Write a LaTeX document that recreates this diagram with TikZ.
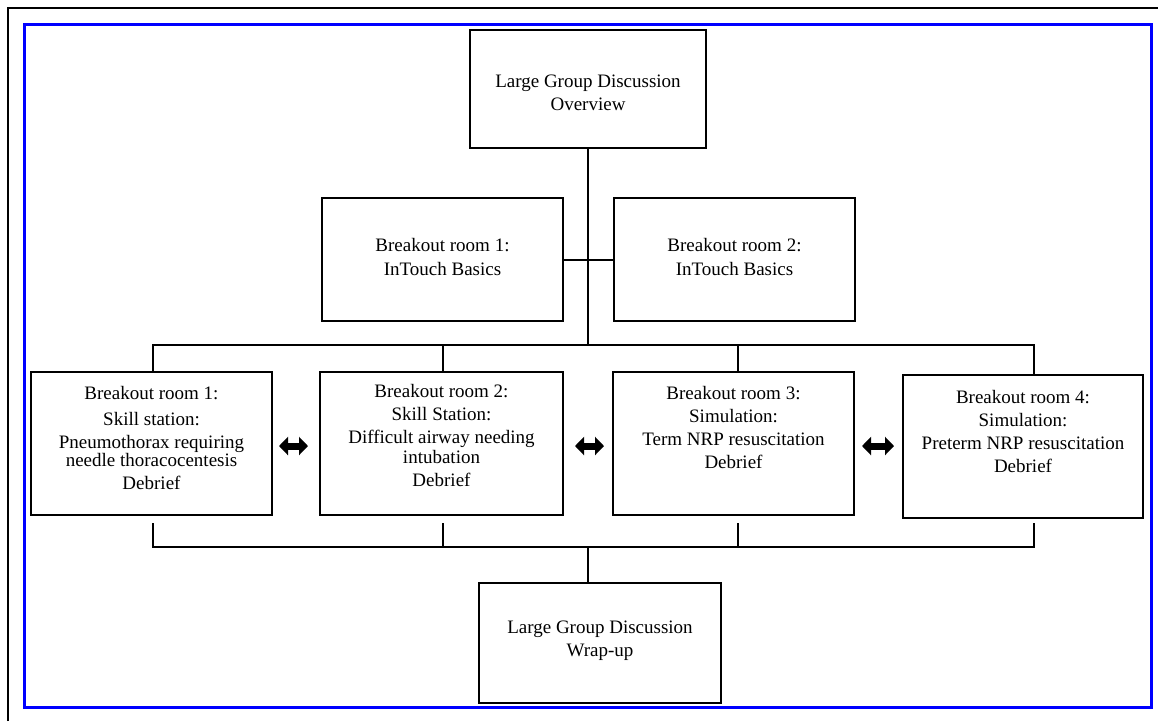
\documentclass[tikz,border=0pt]{standalone}
\usepackage{fontspec}
\setmainfont{Liberation Serif}
\usetikzlibrary{arrows.meta,calc}
\begin{document}
\begin{tikzpicture}[x=1pt,y=-1pt,
  boxnode/.style={draw=black, line width=2.2pt, inner sep=0pt, rectangle},
  txt/.style={align=center, inner sep=0pt, anchor=north, font=\fontsize{19}{23}\selectfont},
  conn/.style={line width=2pt},
  dbl/.style={line width=7pt, {Triangle[length=9pt,width=18pt]}-{Triangle[length=9pt,width=18pt]}}
]
\useasboundingbox (0,0) rectangle (1158,721);
% frames
\draw[line width=2pt] (8,721) -- (8,8) -- (1158,8);
\draw[blue, line width=3pt] (24,24) rectangle (1151,707);

% boxes
\node[boxnode, minimum width=236pt, minimum height=118pt] (top) at (588,89) {};
\node[boxnode, minimum width=241pt, minimum height=123pt] (r1) at (442.5,259.5) {};
\node[boxnode, minimum width=241pt, minimum height=123pt] (r2) at (734.5,259.5) {};
\node[boxnode, minimum width=241pt, minimum height=143pt] (b1) at (151.5,443.5) {};
\node[boxnode, minimum width=243pt, minimum height=143pt] (b2) at (441.5,443.5) {};
\node[boxnode, minimum width=241pt, minimum height=143pt] (b3) at (733.5,443.5) {};
\node[boxnode, minimum width=240pt, minimum height=143pt] (b4) at (1023,446.5) {};
\node[boxnode, minimum width=242pt, minimum height=120pt] (wrap) at (600,643) {};

% texts
\node[txt] (top-t) at (588,74.5) {Large Group Discussion\\Overview};
\node[txt] (r1-t) at (442.5,238) {Breakout room 1:\\[1pt]InTouch Basics};
\node[txt] (r2-t) at (734.5,238) {Breakout room 2:\\[1pt]InTouch Basics};
\node[txt] (b1-t) at (151.5,386.5) {Breakout room 1:\\[3pt]Skill station:\\Pneumothorax requiring\\[-5pt]needle thoracocentesis\\Debrief};
\node[txt] (b2-t) at (441.5,384.5) {Breakout room 2:\\Skill Station:\\Difficult airway needing\\[-3pt]intubation\\Debrief};
\node[txt] (b3-t) at (733.5,386.5) {Breakout room 3:\\Simulation:\\Term NRP resuscitation\\Debrief};
\node[txt] (b4-t) at (1023,390) {Breakout room 4:\\Simulation:\\Preterm NRP resuscitation\\Debrief};
\node[txt] (wrap-t) at (600,621) {Large Group Discussion\\Wrap-up};

% connectors
\coordinate (j1) at (588,345);
\coordinate (j2) at (588,547);
\coordinate (u1) at ($(b1.north)+(1.5,0)$);
\coordinate (u2) at ($(b2.north)+(1.5,0)$);
\coordinate (u3) at ($(b3.north)+(4.5,0)$);
\coordinate (u4) at ($(b4.north)+(11,0)$);
\draw[conn] (top.south) -- (j1);
\draw[conn] (r1.east) -- (r2.west);
\draw[conn] (u1) |- (j1) -| (u4);
\draw[conn] (u2) -- (u2 |- j1);
\draw[conn] (u3) -- (u3 |- j1);
\coordinate (d1) at ($(b1.south)+(1.5,7)$);
\coordinate (d2) at ($(b2.south)+(1.5,7)$);
\coordinate (d3) at ($(b3.south)+(4.5,7)$);
\coordinate (d4) at ($(b4.south)+(11,4)$);
\draw[conn] (d1) |- (j2) -| (d4);
\draw[conn] (d2) -- (d2 |- j2);
\draw[conn] (d3) -- (d3 |- j2);
\draw[conn] (j2) -- (wrap.north -| j2);

% double arrows
\coordinate (a1l) at (279,446);
\coordinate (a1r) at (308,446);
\coordinate (a2l) at (575,446);
\coordinate (a2r) at (604,446);
\coordinate (a3l) at (862,446);
\coordinate (a3r) at (894,446);
\draw[dbl] (a1l) -- (a1r);
\draw[dbl] (a2l) -- (a2r);
\draw[dbl] (a3l) -- (a3r);
\end{tikzpicture}
\end{document}
